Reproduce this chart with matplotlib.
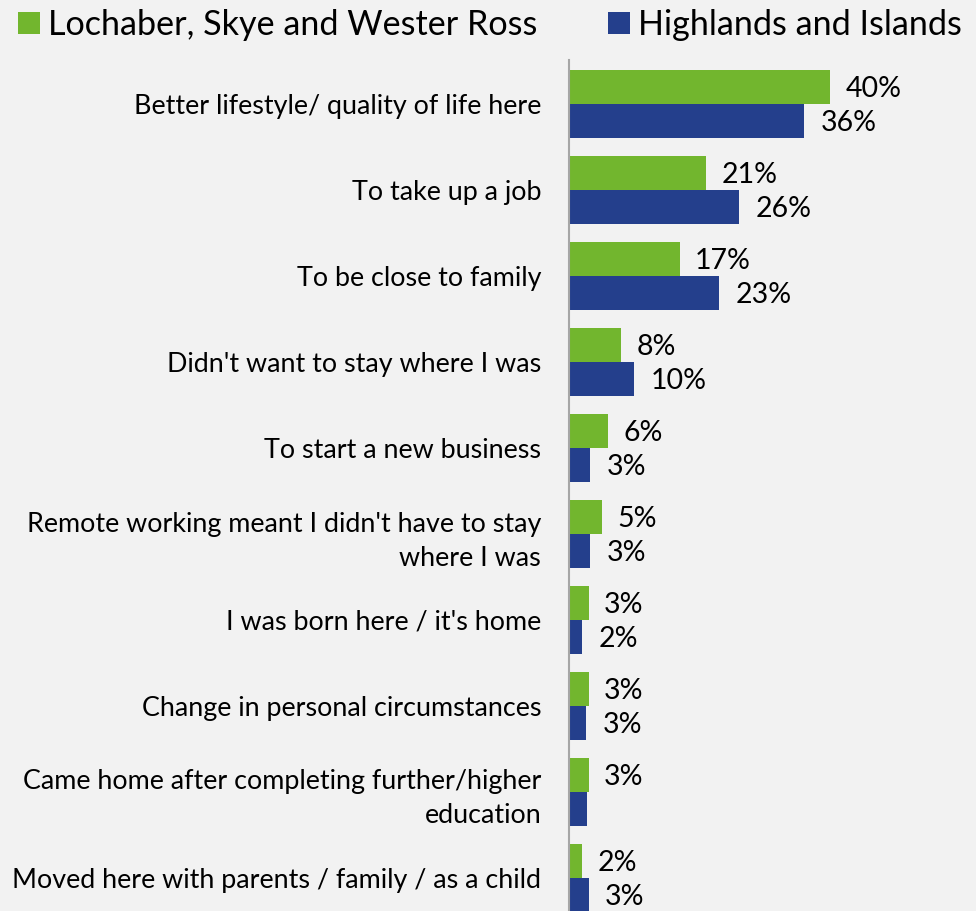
import matplotlib.pyplot as plt
import numpy as np

# motivos para mudarse a la zona
categories = [
    "Better lifestyle/ quality of life here",
    "To take up a job",
    "To be close to family",
    "Didn't want to stay where I was",
    "To start a new business",
    "Remote working meant I didn't have to stay\nwhere I was",
    "I was born here / it's home",
    "Change in personal circumstances",
    "Came home after completing further/higher\neducation",
    "Moved here with parents / family / as a child",
]
lochaber = [40, 21, 17, 8, 6, 5, 3, 3, 3, 2]
highlands = [36, 26, 23, 10, 3.2, 3.2, 2, 2.6, 2.7, 3]
lochaber_lbl = ["40%", "21%", "17%", "8%", "6%", "5%", "3%", "3%", "3%", "2%"]
highlands_lbl = ["36%", "26%", "23%", "10%", "3%", "3%", "2%", "3%", "", "3%"]

green = "#72B62E"
blue = "#243F8C"
bg = "#F2F2F2"
fnt = "Lato"

fig = plt.figure(figsize=(9.76, 9.11), dpi=100, facecolor=bg)
ax = fig.add_axes([569 / 976, 0, 407 / 976, 851 / 911])
ax.set_facecolor(bg)

y = np.arange(len(categories))
h = 0.4
b1 = ax.barh(y - h / 2, lochaber, height=h, color=green, label="Lochaber, Skye and Wester Ross")
b2 = ax.barh(y + h / 2, highlands, height=h, color=blue, label="Highlands and Islands")

for bar, t in zip(b1, lochaber_lbl):
    ax.annotate(t, (bar.get_width(), bar.get_y() + bar.get_height() / 2),
                xytext=(11, -1.5), textcoords="offset points", va="center", ha="left",
                fontsize=20.5, family=fnt)
for bar, t in zip(b2, highlands_lbl):
    ax.annotate(t, (bar.get_width(), bar.get_y() + bar.get_height() / 2),
                xytext=(12, -1.5), textcoords="offset points", va="center", ha="left",
                fontsize=20.5, family=fnt)

ax.set_xlim(0, 407 / 6.525)
ax.set_ylim(9.384, -0.512)
ax.set_yticks(y)
ax.set_yticklabels(categories, fontsize=19.4, family=fnt, linespacing=1.45)
ax.tick_params(axis="y", length=0, pad=20)
ax.set_xticks([])
for s in ["top", "right", "bottom"]:
    ax.spines[s].set_visible(False)
ax.spines["left"].set_color("#A6A6A6")
ax.spines["left"].set_linewidth(1.5)

fig.legend(loc="upper left", bbox_to_anchor=(18 / 976, 1 - 9 / 911), ncol=2, frameon=False,
           prop={"family": fnt, "size": 24.6}, handlelength=0.65, handleheight=0.65,
           handletextpad=0.24, columnspacing=2.05, borderpad=0, borderaxespad=0)

fig.savefig("out.png", dpi=100, facecolor=bg)
